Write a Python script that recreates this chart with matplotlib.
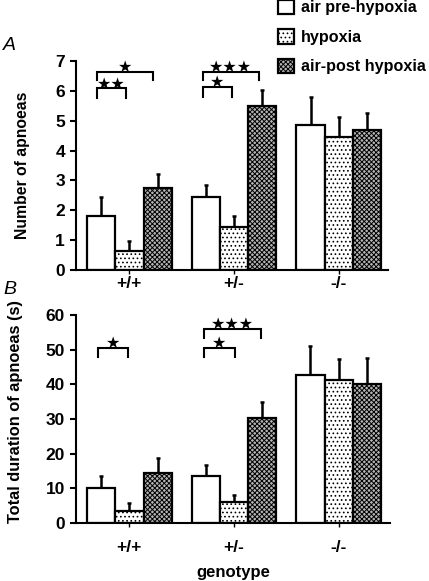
import numpy as np
import matplotlib.pyplot as plt

plt.rcParams['font.family'] = ['Liberation Sans', 'DejaVu Sans']
plt.rcParams['font.weight'] = 'bold'
plt.rcParams['hatch.linewidth'] = 0.7

# genotypes and conditions
genotypes = ['+/+', '+/-', '-/-']
conditions = ['air pre-hypoxia', 'hypoxia', 'air-post hypoxia']

# panel A: number of apnoeas (mean, upper SEM)
count_pre = [1.82, 2.44, 4.85]
count_pre_err = [0.63, 0.42, 0.95]
count_hyp = [0.64, 1.44, 4.47]
count_hyp_err = [0.33, 0.38, 0.66]
count_post = [2.73, 5.50, 4.70]
count_post_err = [0.48, 0.54, 0.57]

# panel B: total duration of apnoeas (s)
dur_pre = [10.0, 13.6, 42.6]
dur_pre_err = [3.6, 3.0, 8.6]
dur_hyp = [3.4, 6.2, 41.2]
dur_hyp_err = [2.4, 1.8, 6.1]
dur_post = [14.4, 30.2, 40.1]
dur_post_err = [4.3, 4.8, 7.6]

# significance brackets: left x, right x, height, drop, label
sig_a_left = [-0.31, -0.31, 0.70, 0.70]
sig_a_right = [0.23, -0.03, 1.24, 0.98]
sig_a_y = [6.63, 6.08, 6.63, 6.12]
sig_a_drop = [0.28, 0.32, 0.28, 0.32]
sig_a_text = ['★', '★★', '★★★', '★']

sig_b_left = [-0.30, 0.71, 0.71]
sig_b_right = [-0.01, 1.26, 1.01]
sig_b_y = [50.5, 55.9, 50.6]
sig_b_drop = [2.6, 2.4, 2.7]
sig_b_text = ['★', '★★★', '★']

x = np.arange(len(genotypes))
w = 0.27
styles = [dict(facecolor='white', hatch=None),
          dict(facecolor='white', hatch='....'),
          dict(facecolor='#b4b4b4', hatch='xxxxxxx')]

fig = plt.figure(figsize=(4.29, 5.81), dpi=100)
ax1 = fig.add_axes([76/429, 1-270/581, 312/429, 209/581])
ax2 = fig.add_axes([76/429, 1-523/581, 314/429, 208/581])


def draw(ax, series, errs, lefts, rights, ys, drops, texts, ylim, yticks, xmax, xpad):
    bars = []
    for i, (vals, err) in enumerate(zip(series, errs)):
        pos = x + (i - 1) * w
        b = ax.bar(pos, vals, w, edgecolor='black', linewidth=1.6,
                   label=conditions[i], zorder=2, **styles[i])
        ax.errorbar(pos, vals, yerr=[np.zeros(len(vals)), err], fmt='none',
                    ecolor='black', elinewidth=1.8, capsize=1.6, capthick=1.8, zorder=1)
        bars.append(b)
    for l, r, y, d, t in zip(lefts, rights, ys, drops, texts):
        ax.plot([l, l, r, r], [y - d, y, y, y - d], color='black', lw=1.5,
                solid_joinstyle='miter', clip_on=False)
        ax.text((l + r) / 2, y, t, ha='center', va='baseline', fontsize=11.5,
                family='DejaVu Sans', clip_on=False)
    ax.set_xlim(-0.51, xmax)
    ax.set_ylim(*ylim)
    ax.set_yticks(yticks)
    ax.set_xticks(x)
    ax.set_xticklabels(genotypes)
    for s in ['top', 'right']:
        ax.spines[s].set_visible(False)
    for s in ['left', 'bottom']:
        ax.spines[s].set_linewidth(1.5)
    ax.tick_params(axis='y', length=4, width=1.5, labelsize=12.5, pad=4)
    ax.tick_params(axis='x', length=3, width=1, labelsize=12.5, pad=xpad)
    return bars


bars = draw(ax1, [count_pre, count_hyp, count_post],
            [count_pre_err, count_hyp_err, count_post_err],
            sig_a_left, sig_a_right, sig_a_y, sig_a_drop, sig_a_text,
            (0, 7), range(0, 8), 2.47, 1.5)
draw(ax2, [dur_pre, dur_hyp, dur_post],
     [dur_pre_err, dur_hyp_err, dur_post_err],
     sig_b_left, sig_b_right, sig_b_y, sig_b_drop, sig_b_text,
     (0, 60), range(0, 61, 10), 2.49, 9)

ax1.set_ylabel('Number of apnoeas', fontsize=11.3, fontweight='bold')
ax1.yaxis.set_label_coords(-0.147, 0.5)
ax2.set_ylabel('Total duration of apnoeas (s)', fontsize=11.8, fontweight='bold')
ax2.yaxis.set_label_coords(-0.169, 0.534)
ax2.set_xlabel('genotype', fontsize=12, fontweight='bold')
ax2.xaxis.set_label_coords(0.5, -0.2)

fig.text(3/429, 1-46/581, 'A', fontsize=14, style='italic', fontweight='normal', va='center')
fig.text(3/429, 1-290/581, 'B', fontsize=14, style='italic', fontweight='normal', va='center')

fig.legend(handles=bars, loc='upper left', bbox_to_anchor=(278/429, 1.0005),
           frameon=False, fontsize=11.6, handlelength=1.0, handleheight=1.0,
           handletextpad=0.45, labelspacing=0.85, borderpad=0, borderaxespad=0)

fig.savefig('out.png', dpi=100)
